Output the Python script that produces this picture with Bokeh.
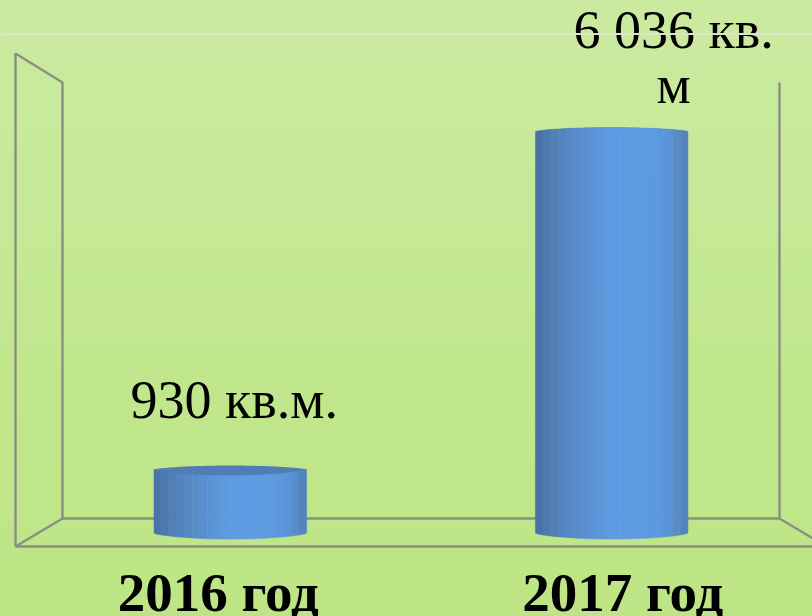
from bokeh.plotting import figure
from bokeh.models import Range1d, Span
from bokeh.embed import file_html
from bokeh.resources import INLINE
from bokeh.core.properties import value
import numpy as np

categories = ["2016 год", "2017 год"]
areas = [930, 6036]

# scale: pixels per factor step / pixels per square metre, frame size
W, H = 812, 616
PX = 381.4
PY = 0.0662
X0, Y0 = 229.8, 530.6        # pixel position of first category, of the zero line

x_range = Range1d(-X0 / PX, (W - X0) / PX)
y_range = Range1d(-(H - Y0) / PY, Y0 / PY)

p = figure(width=W, height=H, x_range=x_range, y_range=y_range,
           output_backend="svg", toolbar_location=None,
           min_border=0, x_axis_location=None, y_axis_location=None)
p.styles = {"position": "absolute", "left": "0", "top": "0",
            "background": "linear-gradient(180deg,#cbeaa1 0%,#c8ea9c 16%,#c5e996 35%,#c1e78d 60%,#bde585 100%)"}
p.background_fill_alpha = 0
p.border_fill_alpha = 0
p.outline_line_color = None
p.grid.visible = False

def dx(px):
    return px / PX

def dy(px):
    return px / PY

# pale decorative rule across the slide
p.add_layout(Span(location=dy(Y0 - 33.5), dimension="width", line_color="#dce2cd", line_width=2))

# 3-D box of the chart, expressed relative to the category / value scales
left_back, right_back = dx(62) - X0 / PX, dx(779) - X0 / PX
left_front, right_front = dx(15) - X0 / PX, dx(826) - X0 / PX
floor_back, floor_front = dy(Y0 - 518), dy(Y0 - 546)
top_back, top_front = dy(Y0 - 82), dy(Y0 - 53)
box_x = [[left_front, left_front, left_back, left_back, right_back, right_back],
         [left_back, left_front, right_front],
         [right_back, right_front]]
box_y = [[floor_front, top_front, top_back, floor_back, floor_back, top_back],
         [floor_back, floor_front, floor_front],
         [floor_back, floor_front]]
p.multi_line(box_x, box_y, line_color="#8b8f83", line_width=2.4)

# cylinders
HALF = 76.3
shades = ["#4a74a9", "#4d79b0", "#517fb8", "#5484bf", "#5688c5", "#588cca", "#598fd0", "#5b93d6",
          "#5c97dc", "#5d9ae1", "#5e9be3", "#5e9be3", "#5e9be3", "#5e9be3", "#5d9ae2", "#5d99e0",
          "#5c97dd", "#5a93d6", "#588dcc", "#5484bd"]
top_bulge = [6.0, -4.0]      # visible curve of the upper rim, px
cap_up = 4.0                 # rise of the top ellipse above its edge, px
base_drop = 2.0              # px the side's lower corner sits under the zero line
bot_rim = 6.0
edges = np.linspace(-1, 1, len(shades) + 1)

def arc(t):
    return np.maximum(0, 1 - t**2) ** 0.7

for i, v in enumerate(areas):
    t = np.linspace(-1, 1, 81)
    cx = i + dx(HALF) * t
    p.patch(np.r_[cx, cx[::-1]],
            np.r_[v + dy(cap_up) * arc(t), (v - dy(top_bulge[i] + 1) * arc(t))[::-1]],
            fill_color="#4f7db4", line_color=None)
    for s, c in enumerate(shades):
        tt = np.linspace(edges[s], edges[s + 1], 8)
        xs = i + dx(HALF) * tt
        upper = v - dy(top_bulge[i]) * arc(tt)
        lower = -dy(base_drop) - dy(bot_rim) * arc(tt)
        p.patch(np.r_[xs, xs[::-1]], np.r_[upper, lower[::-1]],
                fill_color=c, line_color=c, line_width=0.5)

# value labels
for x, y, txt, xo, yo in [(0, areas[0], "930 кв.м.", 4, -70),
                          (1, areas[1], "6 036 кв.", 62, -102),
                          (1, areas[1], "м", 62, -47)]:
    p.text(x=[x], y=[y], text=[txt], x_offset=xo, y_offset=yo,
           text_font=value("Liberation Serif"), text_font_size="54px",
           text_align="center", text_baseline="alphabetic", text_color="#000000")

# category labels
label_shift = [-12, 11]
for i, c in enumerate(categories):
    p.text(x=[i], y=[0], text=[c], x_offset=label_shift[i], y_offset=61,
           text_font=value("Liberation Serif"), text_font_size="55px", text_font_style="bold",
           text_align="center", text_baseline="alphabetic", text_color="#000000")

open("out.html", "w").write(file_html(p, INLINE))
